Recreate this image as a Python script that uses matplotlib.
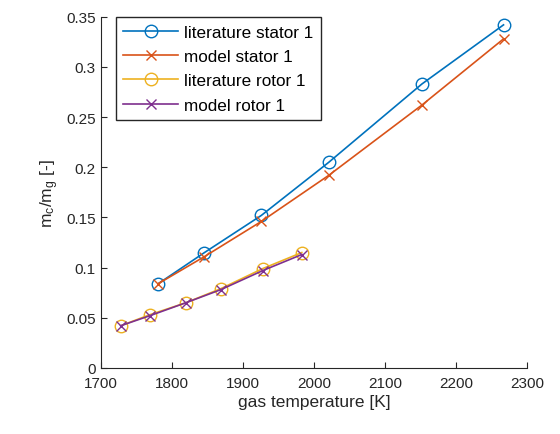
import matplotlib.pyplot as plt

plt.rcParams['font.family'] = ['Liberation Sans', 'DejaVu Sans']

# datos
T_stator = [1781, 1846, 1926, 2021, 2152, 2267]
lit_stator = [0.084, 0.115, 0.152, 0.205, 0.283, 0.342]
mod_stator = [0.084, 0.111, 0.146, 0.192, 0.262, 0.328]

T_rotor = [1728, 1769, 1820, 1869, 1928, 1983]
lit_rotor = [0.042, 0.053, 0.065, 0.079, 0.099, 0.115]
mod_rotor = [0.042, 0.052, 0.065, 0.078, 0.097, 0.113]

fig = plt.figure(figsize=(5.6, 4.35), dpi=100)
ax = fig.add_axes([0.18, 0.152, 0.761, 0.807])

ax.plot(T_stator, lit_stator, '-o', color='#0072BD', mfc='none', ms=9, lw=1.2, label='literature stator 1')
ax.plot(T_stator, mod_stator, '-x', color='#D95319', ms=7.5, lw=1.2, label='model stator 1')
ax.plot(T_rotor, lit_rotor, '-o', color='#EDB120', mfc='none', ms=9, lw=1.2, label='literature rotor 1')
ax.plot(T_rotor, mod_rotor, '-x', color='#7E2F8E', ms=7.5, lw=1.2, label='model rotor 1')

ax.set_xlim(1700, 2300)
ax.set_ylim(0, 0.35)
ax.set_xticks(range(1700, 2301, 100))
ax.set_yticks([0, 0.05, 0.1, 0.15, 0.2, 0.25, 0.3, 0.35])
ax.set_yticklabels(['0', '0.05', '0.1', '0.15', '0.2', '0.25', '0.3', '0.35'])
ax.tick_params(direction='in', labelsize=11, colors='#262626', length=4)
ax.tick_params(axis='x', pad=6)
for s in ['top', 'right']:
    ax.spines[s].set_visible(False)
for s in ['left', 'bottom']:
    ax.spines[s].set_color('#262626')

ax.set_xlabel('gas temperature [K]', fontsize=12.5, color='#262626', labelpad=3)
ax.set_ylabel(r'$\mathregular{m_c/m_g}$ [-]', fontsize=12.5, color='#262626')

leg = ax.legend(loc='upper left', bbox_to_anchor=(0.035, 1.0), fontsize=12.3, fancybox=False,
                edgecolor='#262626', framealpha=1, handlelength=3.2, borderpad=0.45,
                labelspacing=0.55, handletextpad=0.35, borderaxespad=0)
leg.get_frame().set_linewidth(1.0)

plt.savefig('out.png')
